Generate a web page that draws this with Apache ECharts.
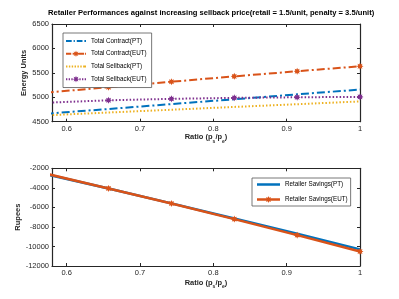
<!DOCTYPE html>
<html><head><meta charset="utf-8">
<script src="https://cdn.jsdelivr.net/npm/echarts@6/dist/echarts.min.js"></script>
<style>html,body{margin:0;padding:0;background:#fff}#c{width:399px;height:299px}</style>
</head><body><div id="c"></div>
<script>
const ratios = [0.5714, 0.6571, 0.7429, 0.8286, 0.9143, 1.0];
const contractPT = [4662, 4760, 4860, 4960, 5060, 5158];
const contractEUT = [5095, 5205, 5318, 5428, 5533, 5635];
const sellbackPT = [4630, 4688, 4745, 4802, 4858, 4915];
const sellbackEUT = [4888, 4938, 4968, 4988, 5000, 5008];
const savingsPT = [-2600, -4070, -5590, -7140, -8700, -10300];
const savingsEUT = [-2540, -4060, -5600, -7200, -8840, -10520];
const xTicks = [0.6, 0.7, 0.8, 0.9, 1];
const titleText = 'Retailer Performances against increasing sellback price(retail = 1.5/unit, penalty = 3.5/unit)';

const FONT = 'Liberation Sans';
const AX = '#262626';
const C = {blue:'#0072BD', orange:'#D95319', yellow:'#EDB120', purple:'#7E2F8E'};
const star = 'path://M10,5 L7.6,6.1 L8.5,8.5 L6.1,7.6 L5,10 L3.9,7.6 L1.5,8.5 L2.4,6.1 L0,5 L2.4,3.9 L1.5,1.5 L3.9,2.4 L5,0 L6.1,2.4 L8.5,1.5 L7.6,3.9 Z';
const pairs = (ys) => ratios.map((x, i) => [x, ys[i]]);

// legend icon shapes (21 x 7 box, line band y 2.5..4.5)
const iStar = 'M14,3.5 L12.163,4.189 L12.975,5.975 L11.189,5.163 L10.5,7 L9.811,5.163 L8.025,5.975 L8.837,4.189 L7,3.5 L8.837,2.811 L8.025,1.025 L9.811,1.837 L10.5,0 L11.189,1.837 L12.975,1.025 L12.163,2.811 Z';
const seg = (a, b, y0, y1) => `M${a},${y0} H${b} V${y1} H${a} Z`;
const icoContractPT = 'path://' + seg(0,6,2.5,4.5) + seg(8,9.3,2.5,4.5) + seg(11.3,17.3,2.5,4.5) + seg(19.3,21,2.5,4.5);
const icoContractEUT = 'path://' + seg(0,5.5,2.5,4.5) + seg(7,8,2.5,4.5) + iStar + seg(13,19,2.5,4.5) + seg(20,21,2.5,4.5);
const icoSellPT = 'path://' + [0,3,6,9,12,15,18,19.5].map(x => seg(x, x+1.5, 2.5, 4.5)).join('');
const icoSellEUT = 'path://' + [0,2.8,5.6].map(x => seg(x, x+1.4, 2.5, 4.5)).join('') + iStar + [14,16.8,19.6].map(x => seg(x, x+1.4, 2.5, 4.5)).join('');
const iStar2 = iStar.replace(/([ML])([\d.]+),/g, (m, c, x) => c + (parseFloat(x) + 1).toFixed(3) + ',');
const icoSavPT = 'path://' + seg(0,23,2.2,4.8) + 'M0,0 H0.01 V7 H0 Z';
const icoSavEUT = 'path://' + seg(0,23,2.2,4.8) + iStar2;

function xAxisMain(gi, name, gap) {
  return {type:'value', gridIndex:gi, min:0.58, max:1, position:'bottom',
    axisLine:{show:true, onZero:false, lineStyle:{color:AX, width:1.2}},
    axisTick:{show:true, inside:true, length:3, customValues:xTicks, lineStyle:{color:AX}},
    axisLabel:{show:true, customValues:xTicks, margin:3, color:AX, fontSize:7.5, fontFamily:FONT,
      formatter:(v)=>String(Math.round(v*10)/10)},
    splitLine:{show:false},
    name:name, nameLocation:'middle', nameGap:gap, nameMoveOverlap:false,
    nameTextStyle:{color:AX, fontSize:7.5, fontWeight:'bold', fontFamily:FONT,
      rich:{b:{fontSize:7.5, fontWeight:'bold', fontFamily:FONT, color:AX},
            s:{fontSize:5, fontWeight:'bold', fontFamily:FONT, color:AX, verticalAlign:'bottom', lineHeight:14}}}
  };
}
function xAxisTop(gi) {
  return {type:'value', gridIndex:gi, min:0.58, max:1, position:'top',
    axisLine:{show:true, onZero:false, lineStyle:{color:AX, width:1.2}},
    axisTick:{show:true, inside:true, length:3, customValues:xTicks, lineStyle:{color:AX}},
    axisLabel:{show:false}, splitLine:{show:false}};
}
function yAxisMain(gi, min, max, interval, name, gap) {
  return {type:'value', gridIndex:gi, min:min, max:max, interval:interval, position:'left',
    axisLine:{show:true, onZero:false, lineStyle:{color:AX, width:1.2}},
    axisTick:{show:true, inside:true, length:3, lineStyle:{color:AX}},
    axisLabel:{show:true, margin:3, color:AX, fontSize:7.5, fontFamily:FONT, formatter:(v)=>String(v)},
    splitLine:{show:false},
    name:name, nameLocation:'middle', nameGap:gap, nameMoveOverlap:false,
    nameTextStyle:{color:AX, fontSize:7.5, fontWeight:'bold', fontFamily:FONT}};
}
function yAxisRight(gi, min, max, interval) {
  return {type:'value', gridIndex:gi, min:min, max:max, interval:interval, position:'right',
    axisLine:{show:true, onZero:false, lineStyle:{color:AX, width:1.2}},
    axisTick:{show:true, inside:true, length:3, lineStyle:{color:AX}},
    axisLabel:{show:false}, splitLine:{show:false}};
}

const xName = '{b|Ratio (p}{s|s}{b|/p}{s|e}{b|)}';
const option = {
  animation:false,
  backgroundColor:'#fff',
  title:{text:titleText, left:43, top:4,
    textStyle:{fontSize:7.6, fontWeight:'bold', color:'#000', fontFamily:FONT}},
  grid:[
    {left:52, top:24, width:308, height:97.7},
    {left:52, top:168.3, width:308, height:97.7}
  ],
  xAxis:[xAxisMain(0, xName, 8), xAxisTop(0), xAxisMain(1, xName, 9.5), xAxisTop(1)],
  yAxis:[yAxisMain(0, 4500, 6500, 500, 'Energy Units', 24), yAxisRight(0, 4500, 6500, 500),
         yAxisMain(1, -12000, -2000, 2000, 'Rupees', 30), yAxisRight(1, -12000, -2000, 2000)],
  legend:[
    {data:[{name:'Total Contract(PT)', icon:icoContractPT},
           {name:'Total Contract(EUT)', icon:icoContractEUT},
           {name:'Total Sellback(PT)', icon:icoSellPT},
           {name:'Total Sellback(EUT)', icon:icoSellEUT}],
     orient:'vertical', left:63, top:33, itemWidth:20, itemHeight:8, itemGap:6.4,
     symbolKeepAspect:true,
     padding:[5,5,5,3], borderColor:'#555', borderWidth:0.8, backgroundColor:'#fff',
     textStyle:{fontSize:6.3, color:'#000', fontFamily:FONT}},
    {data:[{name:'Retailer Savings(PT)', icon:icoSavPT},
           {name:'Retailer Savings(EUT)', icon:icoSavEUT}],
     orient:'vertical', left:252, top:178, itemWidth:23, itemHeight:8, itemGap:8,
     symbolKeepAspect:true,
     padding:[3,3,3,5], borderColor:'#555', borderWidth:0.8, backgroundColor:'#fff',
     textStyle:{fontSize:6.3, color:'#000', fontFamily:FONT}}
  ],
  series:[
    {name:'Total Contract(PT)', type:'line', xAxisIndex:0, yAxisIndex:0, data:pairs(contractPT),
     symbol:'none', color:C.blue, lineStyle:{width:2, type:[8,3,2,3], color:C.blue}},
    {name:'Total Contract(EUT)', type:'line', xAxisIndex:0, yAxisIndex:0, data:pairs(contractEUT),
     symbol:star, symbolSize:7, color:C.orange, itemStyle:{color:C.orange},
     lineStyle:{width:2, type:[8,3,2,3], color:C.orange}},
    {name:'Total Sellback(PT)', type:'line', xAxisIndex:0, yAxisIndex:0, data:pairs(sellbackPT),
     symbol:'none', color:C.yellow, lineStyle:{width:2, type:[1.5,2], color:C.yellow}},
    {name:'Total Sellback(EUT)', type:'line', xAxisIndex:0, yAxisIndex:0, data:pairs(sellbackEUT),
     symbol:star, symbolSize:7, color:C.purple, itemStyle:{color:C.purple},
     lineStyle:{width:2, type:[1.5,2], color:C.purple}},
    {name:'Retailer Savings(PT)', type:'line', xAxisIndex:2, yAxisIndex:2, data:pairs(savingsPT),
     symbol:'none', color:C.blue, lineStyle:{width:2.5, color:C.blue}},
    {name:'Retailer Savings(EUT)', type:'line', xAxisIndex:2, yAxisIndex:2, data:pairs(savingsEUT),
     symbol:star, symbolSize:7, color:C.orange, itemStyle:{color:C.orange},
     lineStyle:{width:2.5, color:C.orange}}
  ]
};
const chart = echarts.init(document.getElementById('c'), null, {renderer:'canvas'});
chart.setOption(option);
</script></body></html>
